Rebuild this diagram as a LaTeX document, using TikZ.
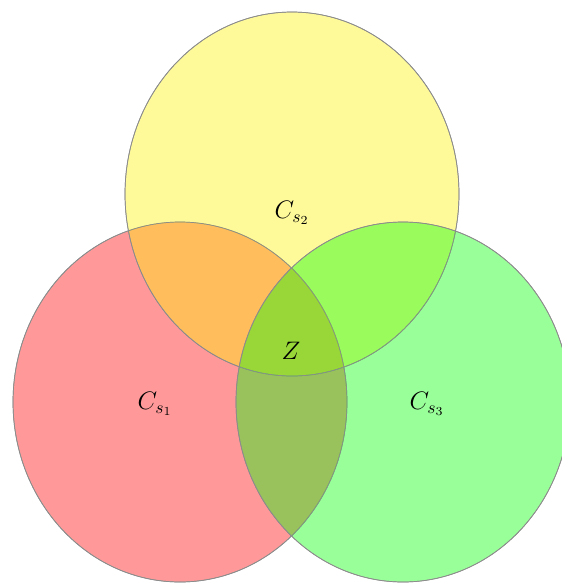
\documentclass[tikz,border=0pt]{standalone}
\usepackage{tikz}
\usetikzlibrary{positioning}

\begin{document}
\begin{tikzpicture}[x=0.02cm, y=-0.02cm,
  setcirc/.style={draw=black!45, fill opacity=0.4, line width=0.4pt},
  setlbl/.style={font=\Large}]
  \clip (0,0) rectangle (562,583);
  \useasboundingbox (0,0) rectangle (562,583);

  % the three sets
  \fill[setcirc, fill=red] (180,402) ellipse [x radius=167, y radius=180];
  \fill[setcirc, fill=yellow] (292,194) ellipse [x radius=167, y radius=182];
  \fill[setcirc, fill=green] (403,402) ellipse [x radius=167, y radius=180];
  \draw[setcirc] (180,402) ellipse [x radius=167, y radius=180];
  \draw[setcirc] (292,194) ellipse [x radius=167, y radius=182];
  \draw[setcirc] (403,402) ellipse [x radius=167, y radius=180];

  % labels
  \node[setlbl] (cs2) at (292,213) {$C_{s_2}$};
  \node[setlbl] (cs1) at (155,404) {$C_{s_1}$};
  \node[setlbl] (cs3) at (427,404) {$C_{s_3}$};
  \node[setlbl] (z) at (291,351) {$Z$};
\end{tikzpicture}
\end{document}
